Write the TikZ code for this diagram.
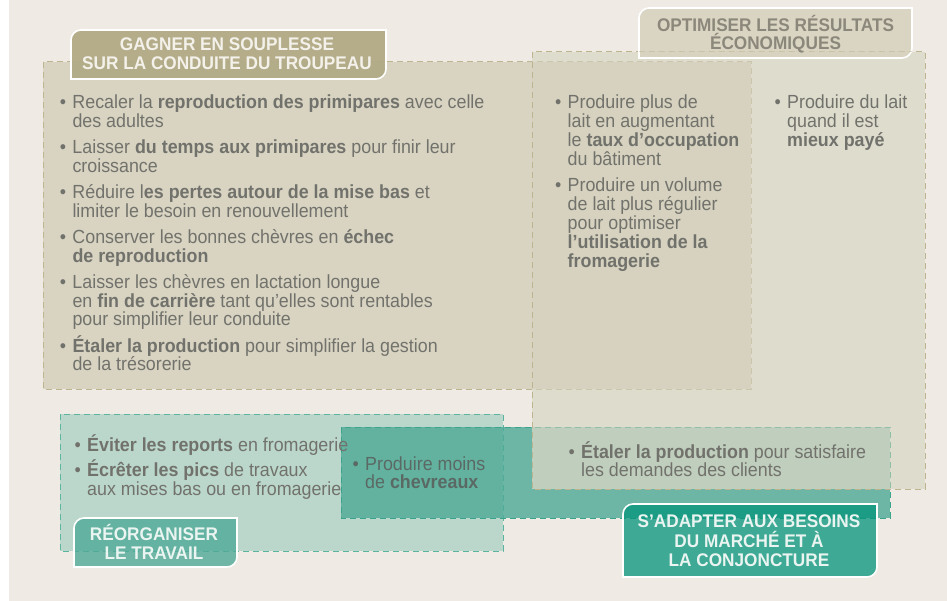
\documentclass[tikz,border=0pt]{standalone}
\usepackage{fontspec}
\setmainfont{Liberation Sans}[FakeStretch=0.94]
\definecolor{bgc}{HTML}{EFEBE4}
\definecolor{boxA}{HTML}{D9D4C2}
\definecolor{boxB}{RGB}{212,210,190}
\definecolor{dashA}{HTML}{BDB58F}
\definecolor{boxC}{HTML}{BBD7CC}
\definecolor{dashC}{HTML}{5DB5A0}
\definecolor{boxD}{RGB}{77,169,150}
\definecolor{dashD}{HTML}{3AA58C}
\definecolor{ovl}{HTML}{C0CEBD}
\definecolor{tabA}{HTML}{B2AA86}
\definecolor{tabB}{HTML}{D8D3C0}
\definecolor{tabC}{RGB}{77,169,150}
\definecolor{tabD}{RGB}{3,148,123}
\definecolor{txtc}{HTML}{72726C}
\definecolor{txtd}{HTML}{5B6964}
\definecolor{tabtxtA}{HTML}{F3F1EA}
\definecolor{tabtxtB}{HTML}{8B877A}
\definecolor{tabtxtC}{HTML}{EAF5F1}
\newcommand\blines[2]{\vtop{\baselineskip=#1\lineskiplimit=-\maxdimen\halign{##\hfil\cr#2\crcr}}}
\newcommand\clines[2]{\vtop{\baselineskip=#1\lineskiplimit=-\maxdimen\halign{\hfil##\hfil\cr#2\crcr}}}
\newcommand\bul{\llap{\textbullet\kern6.4pt}}
\tikzset{
  dashbox/.style={dash pattern=on 6pt off 4pt, line width=1pt},
  tabedge/.style={draw=white, line width=1.6pt},
  bodytxt/.style={inner sep=0pt, anchor=base west, text=txtc, font=\fontsize{19pt}{18.4pt}\selectfont},
  tabtxt/.style={inner sep=0pt, anchor=base, font=\bfseries\fontsize{18.3pt}{19pt}\selectfont},
}
\begin{document}
\begin{tikzpicture}[x=1pt, y=-1pt]
\useasboundingbox (0,0) rectangle (947,601);
% background
\fill[white] (0,0) rectangle (947,601);
\fill[bgc] (9,0) rectangle (947,601);

% box 3 : réorganiser le travail
\fill[boxC] (60,414) rectangle (503,551);
\draw[dashC, dashbox] (60,414) rectangle (503,551);
% box 4 : s'adapter au marché
\fill[boxD, fill opacity=0.8] (341,427) rectangle (890,518);
\draw[dashD, dashbox] (341,427) rectangle (890,518);
% box 1 : gagner en souplesse
\fill[boxA] (43,62) rectangle (751,389);
\draw[dashA, dashbox] (43,62) rectangle (751,389);
% box 2 : optimiser les résultats
\fill[boxB, fill opacity=0.6] (532,52) rectangle (925,489);
\fill[ovl] (532,427) rectangle (890,489);
\begin{scope}
  \clip (532,427) rectangle (890,489);
  \draw[dashD, dashbox, opacity=0.35] (341,427) rectangle (890,518);
\end{scope}
\draw[dashA, dashbox] (532,52) rectangle (925,489);

% tabs
\path[tabedge, fill=tabA, fill opacity=0.95]
  (71,79) -- (71,40) .. controls (71,34.5) and (75.5,30) .. (81,30) -- (386,30)
  -- (386,69) .. controls (386,74.5) and (381.5,79) .. (376,79) -- cycle;
\node[tabtxt, text=tabtxtA] (tA) at (227,50.7)
  {\clines{19.3pt}{GAGNER EN SOUPLESSE\cr SUR LA CONDUITE DU TROUPEAU}};

\path[tabedge, fill=tabB, fill opacity=0.9]
  (639,58) -- (639,18) .. controls (639,12.5) and (643.5,8) .. (649,8) -- (912,8)
  -- (912,48) .. controls (912,53.5) and (907.5,58) .. (902,58) -- cycle;
\draw[dashA, dashbox, opacity=0.5] (639,52) -- (912,52);
\node[tabtxt, text=tabtxtB] (tB) at (775.5,31.7)
  {\clines{18.3pt}{OPTIMISER LES RÉSULTATS\cr ÉCONOMIQUES}};

\path[tabedge, fill=tabC, fill opacity=0.79]
  (74,567) -- (74,528) .. controls (74,522.5) and (78.5,518) .. (84,518) -- (237,518)
  -- (237,557) .. controls (237,562.5) and (232.5,567) .. (227,567) -- cycle;
\node[tabtxt, text=tabtxtC] (tC) at (154,540.7)
  {\clines{18.3pt}{RÉORGANISER\cr LE TRAVAIL}};

\path[tabedge, fill=tabD, fill opacity=0.75]
  (623,577) -- (623,514) .. controls (623,508.5) and (627.5,504) .. (633,504) -- (877,504)
  -- (877,567) .. controls (877,572.5) and (872.5,577) .. (867,577) -- cycle;
\node[tabtxt, text=tabtxtC] (tD) at (749,527.7)
  {\clines{19.5pt}{S’ADAPTER AUX BESOINS\cr DU MARCHÉ ET À\cr LA CONJONCTURE}};

% box 1 items
\node[bodytxt] (a1) at (72.3,109) {\blines{18.4pt}{\bul Recaler la \textbf{reproduction des primipares} avec celle\cr des adultes}};
\node[bodytxt] (a2) at (72.3,154) {\blines{18.4pt}{\bul Laisser \textbf{du temps aux primipares} pour finir leur\cr croissance}};
\node[bodytxt] (a3) at (72.3,199) {\blines{18.4pt}{\bul Réduire l\textbf{es pertes autour de la mise bas} et\cr limiter le besoin en renouvellement}};
\node[bodytxt] (a4) at (72.3,244) {\blines{18.4pt}{\bul Conserver les bonnes chèvres en \textbf{échec}\cr \textbf{de reproduction}}};
\node[bodytxt] (a5) at (72.3,289) {\blines{18.4pt}{\bul Laisser les chèvres en lactation longue\cr en \textbf{fin de carrière} tant qu’elles sont rentables\cr pour simplifier leur conduite}};
\node[bodytxt] (a6) at (72.3,352.2) {\blines{18.4pt}{\bul \textbf{Étaler la production} pour simplifier la gestion\cr de la trésorerie}};

% box 2 items
\node[bodytxt] (b1) at (567.5,109) {\blines{18.9pt}{\bul Produire plus de\cr lait en augmentant\cr le \textbf{taux d’occupation}\cr du bâtiment}};
\node[bodytxt] (b2) at (567.5,191.5) {\blines{18.9pt}{\bul Produire un volume\cr de lait plus régulier\cr pour optimiser\cr \textbf{l’utilisation de la}\cr \textbf{fromagerie}}};
\node[bodytxt] (b3) at (787,109) {\blines{18.9pt}{\bul Produire du lait\cr quand il est\cr \textbf{mieux payé}}};

% box 3 items
\node[bodytxt] (c1) at (87,451.7) {\blines{18.4pt}{\bul \textbf{Éviter les reports} en fromagerie}};
\node[bodytxt] (c2) at (87,476.7) {\blines{18.4pt}{\bul \textbf{Écrêter les pics} de travaux\cr aux mises bas ou en fromagerie}};

% box 4 items
\node[bodytxt, text=txtd] (d1) at (365,470) {\blines{18.4pt}{\bul Produire moins\cr de \textbf{chevreaux}}};
\node[bodytxt] (d2) at (581,458.3) {\blines{18.4pt}{\bul \textbf{Étaler la production} pour satisfaire\cr les demandes des clients}};
\end{tikzpicture}
\end{document}
